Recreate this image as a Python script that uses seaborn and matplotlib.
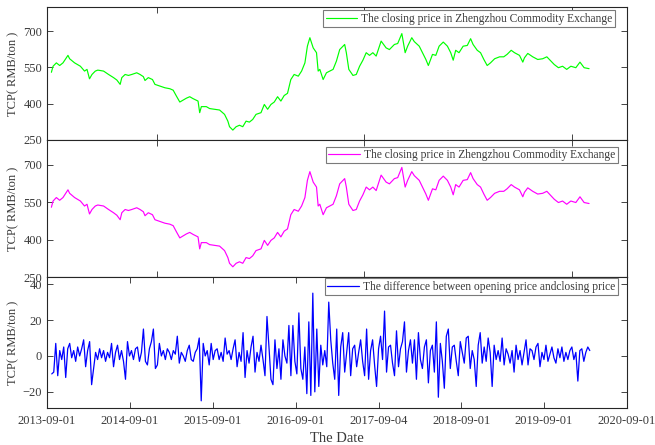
import numpy as np
import pandas as pd
import matplotlib
matplotlib.use("Agg")
import matplotlib.pyplot as plt
import seaborn as sns

# ---------------- data ----------------
close_year = [
    2013.72, 2013.74, 2013.78, 2013.82, 2013.86, 2013.92, 2013.94, 2014.00, 2014.07, 2014.12,
    2014.15, 2014.18, 2014.21, 2014.25, 2014.28, 2014.35, 2014.41, 2014.47, 2014.51, 2014.55,
    2014.57, 2014.61, 2014.65, 2014.69, 2014.75, 2014.79, 2014.83, 2014.85, 2014.89, 2014.94,
    2014.97, 2015.03, 2015.09, 2015.15, 2015.19, 2015.23, 2015.27, 2015.31, 2015.35, 2015.39,
    2015.43, 2015.49, 2015.51, 2015.53, 2015.59, 2015.63, 2015.69, 2015.75, 2015.81, 2015.85,
    2015.87, 2015.91, 2015.95, 2015.99, 2016.03, 2016.07, 2016.11, 2016.15, 2016.19, 2016.25,
    2016.29, 2016.33, 2016.37, 2016.41, 2016.45, 2016.49, 2016.53, 2016.57, 2016.61, 2016.65,
    2016.70, 2016.74, 2016.78, 2016.81, 2016.84, 2016.88, 2016.92, 2016.94, 2016.96, 2017.00,
    2017.04, 2017.08, 2017.12, 2017.16, 2017.20, 2017.26, 2017.28, 2017.31, 2017.36, 2017.40,
    2017.44, 2017.48, 2017.52, 2017.56, 2017.60, 2017.64, 2017.70, 2017.76, 2017.80, 2017.86,
    2017.90, 2017.95, 2017.99, 2018.02, 2018.07, 2018.10, 2018.16, 2018.20, 2018.24, 2018.27,
    2018.32, 2018.36, 2018.40, 2018.45, 2018.50, 2018.54, 2018.57, 2018.60, 2018.64, 2018.69,
    2018.74, 2018.78, 2018.81, 2018.86, 2018.90, 2018.94, 2018.98, 2019.02, 2019.07, 2019.13,
    2019.18, 2019.22, 2019.27, 2019.31, 2019.37, 2019.41, 2019.43, 2019.47, 2019.53, 2019.59,
    2019.65, 2019.70, 2019.74, 2019.79, 2019.84, 2019.89, 2019.94, 2019.99, 2020.05, 2020.10,
    2020.15, 2020.21,
]
close_price = [
    530, 555, 569, 558, 569, 600, 586, 569, 555, 535,
    542, 503, 521, 535, 539, 535, 521, 508, 498, 480,
    508, 521, 517, 521, 528, 521, 512, 496, 508, 500,
    480, 473, 466, 462, 456, 431, 407, 415, 423, 429,
    421, 411, 363, 388, 388, 380, 377, 374, 356, 328,
    305, 291, 305, 311, 305, 328, 324, 335, 356, 363,
    397, 377, 397, 407, 429, 411, 434, 443, 500, 521,
    514, 535, 569, 638, 673, 631, 611, 535, 542, 500,
    528, 535, 542, 576, 624, 645, 611, 542, 517, 521,
    555, 580, 611, 600, 611, 597, 659, 631, 624, 645,
    649, 690, 611, 638, 673, 657, 638, 611, 583, 558,
    604, 600, 638, 655, 638, 611, 580, 621, 611, 638,
    641, 669, 645, 621, 611, 583, 558, 569, 586, 594,
    594, 604, 621, 611, 600, 572, 590, 608, 594, 583,
    586, 594, 580, 562, 549, 555, 542, 555, 549, 572,
    549, 545,
]

diff_start = "2013-09-22"
diff_end = "2020-03-21"
diff_value = [
    -10, -9, 7, -11, 3, -2, 5, -12, 4, 7,
    -1, 3, -3, 5, 0, 4, 9, -6, 3, 8,
    -16, -7, 2, -2, 4, -1, 3, -3, 2, -1,
    7, -6, 2, 6, -2, 3, -3, -13, 8, 0,
    3, -2, 4, 5, -3, 2, 15, -3, -5, 4,
    8, 15, -7, -5, 7, 0, 3, -2, 4, 2,
    -2, 3, 1, 11, -4, 2, 0, -3, 3, 6,
    -2, -3, 2, 4, 10, -25, 7, 0, 3, -5,
    7, -2, 3, 4, -2, 2, -3, 10, 1, 3,
    -2, 4, 9, -6, 2, -3, 13, -12, 3, -4,
    5, 11, -9, 2, -3, 6, -2, -11, 22, 5,
    -13, -16, 9, -7, 4, -13, 9, 0, -4, 17,
    -11, 17, -3, -10, 24, -7, -13, 5, -21, 19,
    -22, 35, -20, 15, -17, 6, -5, 3, -6, 30,
    9, -4, -13, 15, -22, 5, 13, -9, 2, 13,
    -11, 4, 6, -6, 2, 9, -3, -11, 15, -13,
    3, 9, -5, -17, 4, 11, -2, 25, -9, 5,
    6, -4, -11, 14, -6, 4, 8, 19, -9, 3,
    9, -4,
    9, -13, 13, -2, -7, 5, 9, -15, 3, 6,
    -9, 19, -23, 7, -3, -18, 11, 15, -7, 5,
    6, -3, -11, 8, 2, -4, 10, 11, -7, 3,
    -2, -17, 6, 13, -4, 5, -3, 10, 2, -17,
    6, -2, 3, -3, 10, -5, 4, 1, -4, 3,
    -9, 6, -2, 3, -5, 2, 9, -5, 4, 3,
    -2, 5, 7, -6, 2, -2, 6, -3, 1, 5,
    -1, -4, 4, -1, 5, -3, 2, -2, 3, 5,
    -2, 2, -14, 3, 4, -3, 2, 5, 3,
]

xtick_dates = ["2013-09-01", "2014-09-01", "2015-09-01", "2016-09-01",
               "2017-09-04", "2018-09-01", "2019-09-01", "2020-09-01"]
xtick_labels = ["2013-09-01", "2014-09-01", "2015-09-01", "2016-09-01",
                "2017-09-04", "2018-09-01", "2019-09-01", "2020-09-01"]
upper_xticks = ["2015-01-01", "2017-07-01", "2020-01-01"]
price_ticks = [250, 400, 550, 700]
diff_ticks = [-20, 0, 20, 40]

legend_close = "The closing price in Zhengzhou Commodity Exchange"
legend_diff = "The difference between opening price andclosing price"
ylabel = "TCP( RMB/ton )"
xlabel = "The Date"

# ---------------- build frames ----------------
origin = pd.Timestamp("2013-09-01")
close_dates = origin + pd.to_timedelta((np.array(close_year) - 2013.667) * 365.25, unit="D")
close_df = pd.DataFrame({"date": close_dates, "price": close_price})
diff_df = pd.DataFrame({"date": pd.date_range(diff_start, diff_end, periods=len(diff_value)),
                        "diff": diff_value})

# ---------------- style ----------------
sns.set_style("ticks")
plt.rcParams["font.family"] = ["Liberation Serif", "DejaVu Serif"]

fig = plt.figure(figsize=(6.55, 4.45), dpi=100)
L, R = 47 / 655, 627 / 655
W = R - L
def fy(px):
    return 1 - px / 445

ax1 = fig.add_axes([L, fy(140), W, fy(7) - fy(140)])
ax2 = fig.add_axes([L, fy(277), W, fy(140) - fy(277)])
ax3 = fig.add_axes([L, fy(408), W, fy(277) - fy(408)])

spine_col = "#262626"
lab_col = "#3a3a3a"

sns.lineplot(data=close_df, x="date", y="price", ax=ax1, color="#00ff00", lw=0.85,
             label=legend_close, sort=False, estimator=None)
sns.lineplot(data=close_df, x="date", y="price", ax=ax2, color="#ff00ff", lw=0.85,
             label=legend_close, sort=False, estimator=None)
sns.lineplot(data=diff_df, x="date", y="diff", ax=ax3, color="#0000ff", lw=0.9,
             label=legend_diff, sort=False, estimator=None)

xlim = (pd.Timestamp("2013-09-01"), pd.Timestamp("2020-09-01"))
for ax in (ax1, ax2, ax3):
    ax.set_xlim(*xlim)
    for s in ax.spines.values():
        s.set_visible(True)
        s.set_color(spine_col)
        s.set_linewidth(0.8)
    ax.tick_params(direction="in", top=True, right=True, length=4, width=0.6,
                   colors=spine_col, labelcolor=lab_col, labelsize=9)
    ax.tick_params(axis="x", pad=5)
    ax.set_ylabel(ylabel, fontsize=9, color=lab_col)
    ax.yaxis.set_label_coords(-0.047, 0.5)
    ax.set_xlabel("")

for ax in (ax1, ax2):
    ax.set_ylim(250, 800)
    ax.set_yticks(price_ticks)
    ax.set_xticks(pd.to_datetime(upper_xticks))
    ax.set_xticklabels([])

ax3.set_ylim(-29, 44)
ax3.set_yticks(diff_ticks)
ax3.set_xticks(pd.to_datetime(xtick_dates))
ax3.set_xticklabels(xtick_labels)
ax3.set_xlabel(xlabel, fontsize=10.5, color=lab_col, labelpad=4)

legend_kw = dict(loc="upper right", frameon=True, fancybox=False, edgecolor="#7a7a7a",
                 fontsize=8.3, handlelength=2.7, borderpad=0.2, borderaxespad=0.0,
                 framealpha=1, handletextpad=0.4)
for ax, anchor in ((ax1, (0.979, 0.975)), (ax2, (0.984, 0.95)), (ax3, (0.984, 0.99))):
    leg = ax.legend(bbox_to_anchor=anchor, **legend_kw)
    leg.get_frame().set_linewidth(0.8)
    for t in leg.get_texts():
        t.set_color(lab_col)

fig.savefig("out.png", dpi=100)
